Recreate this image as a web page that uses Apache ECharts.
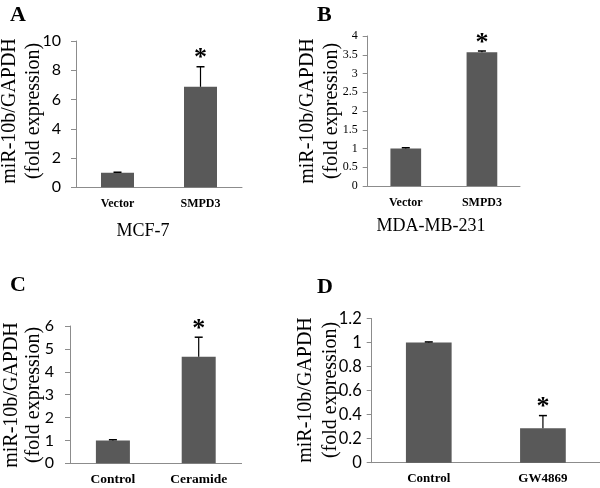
<!DOCTYPE html>
<html>
<head>
<meta charset="utf-8">
<script src="https://cdn.jsdelivr.net/npm/echarts@6/dist/echarts.min.js"></script>
<style>
html,body{margin:0;padding:0;background:#fff;}
#chart{width:600px;height:488px;}
</style>
</head>
<body>
<div id="chart"></div>
<script>
// ---- data ----
var categoriesA = ['Vector', 'SMPD3'];
var valuesA = [1.0, 6.87];
var errorsA = [0.03, 1.37];
var starsA = [false, true];

var categoriesB = ['Vector', 'SMPD3'];
var valuesB = [1.0, 3.57];
var errorsB = [0.02, 0.03];
var starsB = [false, true];

var categoriesC = ['Control', 'Ceramide'];
var valuesC = [1.0, 4.66];
var errorsC = [0.03, 0.85];
var starsC = [false, true];

var categoriesD = ['Control', 'GW4869'];
var valuesD = [1.0, 0.287];
var errorsD = [0.005, 0.105];
var starsD = [false, true];

var yTitleLine1 = 'miR-10b/GAPDH';
var yTitleLine2 = '(fold expression)';

// ---- styling ----
var BAR = '#595959';
var AXIS = '#8c8c8c';
var SERIF = '"Liberation Serif", "Times New Roman", serif';
var SANS = 'Lato, "Liberation Sans", sans-serif';

var panels = [
  {cats: categoriesA, vals: valuesA, errs: errorsA, stars: starsA,
   grid: {left: 76, top: 41, width: 166, height: 146.3},
   y: {max: 10, interval: 2}, tickFont: {fontFamily: SANS, fontSize: 16, color: '#000'}, tickMargin: 15,
   catFont: 12, catMargin: 11, barW: 33, title: {x1: 10, x2: 34, y: 111}},
  {cats: categoriesB, vals: valuesB, errs: errorsB, stars: starsB,
   grid: {left: 367.7, top: 36, width: 152.3, height: 150},
   y: {max: 4, interval: 0.5}, tickFont: {fontFamily: SERIF, fontSize: 12, color: '#000'}, tickMargin: 10,
   catFont: 12, catMargin: 11, barW: 30.7, title: {x1: 308, x2: 332, y: 111}},
  {cats: categoriesC, vals: valuesC, errs: errorsC, stars: starsC,
   grid: {left: 70, top: 326, width: 171.6, height: 137.3},
   y: {max: 6, interval: 1}, tickFont: {fontFamily: SANS, fontSize: 16, color: '#000'}, tickMargin: 16,
   catFont: 13.5, catMargin: 9, barW: 34, title: {x1: 12, x2: 34, y: 395}},
  {cats: categoriesD, vals: valuesD, errs: errorsD, stars: starsD,
   grid: {left: 371.7, top: 318.5, width: 228.3, height: 144.2},
   y: {max: 1.2, interval: 0.2}, tickFont: {fontFamily: SANS, fontSize: 16.5, color: '#000'}, tickMargin: 10,
   catFont: 13, catMargin: 9, barW: 45.7, title: {x1: 306, x2: 331, y: 390}}
];

var grids = [], xAxes = [], yAxes = [], series = [], graphics = [];
var titleStyle = {fontFamily: '"Liberation Serif"', fontSize: 20, fill: '#000', align: 'center', verticalAlign: 'middle'};

panels.forEach(function (p, i) {
  grids.push(Object.assign({containLabel: false}, p.grid));
  xAxes.push({
    type: 'category', gridIndex: i, data: p.cats,
    axisLine: {lineStyle: {color: AXIS, width: 1}},
    axisTick: {show: false},
    axisLabel: {fontFamily: SERIF, fontWeight: 'bold', fontSize: p.catFont, color: '#000', margin: p.catMargin}
  });
  yAxes.push({
    type: 'value', gridIndex: i, min: 0, max: p.y.max, interval: p.y.interval,
    splitLine: {show: false},
    axisLine: {show: true, lineStyle: {color: AXIS, width: 1}},
    axisTick: {show: true, length: 5, lineStyle: {color: AXIS}},
    axisLabel: Object.assign({margin: p.tickMargin}, p.tickFont)
  });
  series.push({
    type: 'bar', xAxisIndex: i, yAxisIndex: i, data: p.vals,
    barWidth: p.barW, itemStyle: {color: BAR}, silent: true
  });
  var ed = p.vals.map(function (v, k) { return [k, v, p.errs[k], p.stars[k] ? 1 : 0]; });
  series.push({
    type: 'custom', xAxisIndex: i, yAxisIndex: i, data: ed, silent: true, z: 5,
    renderItem: function (params, api) {
      var x = api.value(0), v = api.value(1), e = api.value(2), s = api.value(3);
      var base = api.coord([x, v]);
      var top = api.coord([x, v + e]);
      var cap = 4;
      var children = [
        {type: 'line', shape: {x1: base[0], y1: base[1], x2: top[0], y2: top[1]}, style: {stroke: '#000', lineWidth: 1.2}},
        {type: 'line', shape: {x1: top[0] - cap, y1: top[1], x2: top[0] + cap, y2: top[1]}, style: {stroke: '#000', lineWidth: 1.5}}
      ];
      if (s) {
        children.push({type: 'text', x: top[0], y: top[1] - 8,
          style: {text: '*', font: 'bold 26px ' + SERIF, fill: '#000', align: 'center', verticalAlign: 'middle'}});
      }
      return {type: 'group', children: children};
    }
  });
  graphics.push({type: 'text', x: p.title.x1, y: p.title.y, rotation: Math.PI / 2,
    style: Object.assign({text: yTitleLine1}, titleStyle)});
  graphics.push({type: 'text', x: p.title.x2, y: p.title.y, rotation: Math.PI / 2,
    style: Object.assign({text: yTitleLine2}, titleStyle)});
});

var letterStyle = {font: 'bold 22px ' + SERIF, fill: '#000'};
var subStyle = {font: '18px ' + SERIF, fill: '#000', align: 'center', verticalAlign: 'middle'};
graphics.push(
  {type: 'text', left: 10, top: 4, style: Object.assign({text: 'A'}, letterStyle)},
  {type: 'text', left: 317, top: 4, style: Object.assign({text: 'B'}, letterStyle)},
  {type: 'text', left: 10, top: 274, style: Object.assign({text: 'C'}, letterStyle)},
  {type: 'text', left: 317, top: 276, style: Object.assign({text: 'D'}, letterStyle)},
  {type: 'text', x: 143, y: 231, style: Object.assign({text: 'MCF-7'}, subStyle)},
  {type: 'text', x: 431, y: 226, style: Object.assign({text: 'MDA-MB-231'}, subStyle)}
);

var chart = echarts.init(document.getElementById('chart'), null, {renderer: 'canvas'});
chart.setOption({
  animation: false,
  backgroundColor: '#fff',
  grid: grids, xAxis: xAxes, yAxis: yAxes, series: series,
  graphic: graphics
});
</script>
</body>
</html>
